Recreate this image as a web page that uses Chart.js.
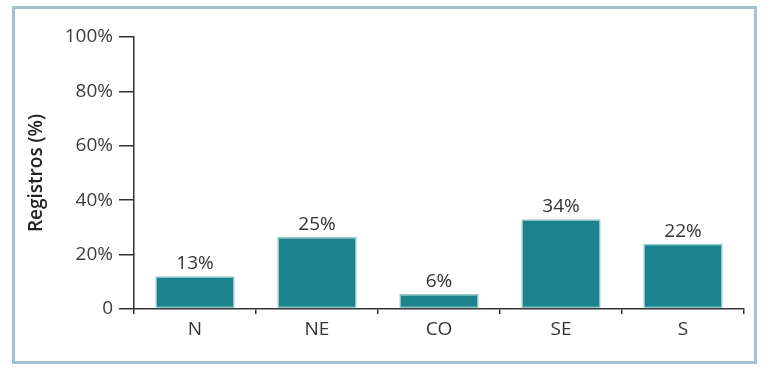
<!DOCTYPE html>
<html>
<head>
<meta charset="utf-8">
<script src="https://cdn.jsdelivr.net/npm/chart.js@4/dist/chart.umd.min.js"></script>
<style>
  html, body { margin: 0; padding: 0; background: #ffffff; }
  #wrap { position: relative; width: 771px; height: 368px; overflow: hidden; }
  #frame { position: absolute; left: 12px; top: 6px; width: 745px; height: 358px; box-sizing: border-box; border: 3px solid #a2c3cb; }
  canvas { position: absolute; left: 0; top: 0; }
</style>
</head>
<body>
<div id="wrap">
  <div id="frame"></div>
  <canvas id="c" width="771" height="368"></canvas>
</div>
<script>
const categories = ["N", "NE", "CO", "SE", "S"];
const values = [12, 26.5, 5.5, 33, 24];
const valueLabels = ["13%", "25%", "6%", "34%", "22%"];
const yTicks = [0, 20, 40, 60, 80, 100];
const yTitle = "Registros (%)";

const FONT = "'Open Sans', 'Noto Sans', sans-serif";

const barLabelPlugin = {
  id: 'barLabels',
  afterDatasetsDraw(chart) {
    const ctx = chart.ctx;
    const meta = chart.getDatasetMeta(0);
    ctx.save();
    ctx.font = "19px " + FONT;
    ctx.fillStyle = "#333333";
    ctx.textAlign = "center";
    ctx.textBaseline = "alphabetic";
    meta.data.forEach((bar, i) => {
      ctx.fillText(valueLabels[i], bar.x, bar.y - 7);
    });
    ctx.restore();
  }
};

new Chart(document.getElementById('c'), {
  type: 'bar',
  data: {
    labels: categories,
    datasets: [{
      data: values,
      backgroundColor: '#1a838b',
      borderColor: '#93c6ca',
      borderWidth: 1.5,
      borderSkipped: false,
      barPercentage: 0.65,
      categoryPercentage: 1
    }]
  },
  options: {
    responsive: false,
    animation: false,
    layout: { padding: { top: 37, right: 27, bottom: 0, left: 0 } },
    plugins: { legend: { display: false }, tooltip: { enabled: false } },
    scales: {
      x: {
        offset: true,
        grid: { offset: true, drawOnChartArea: false, tickLength: 5, color: '#333333', lineWidth: 1.5 },
        border: { display: true, color: '#333333', width: 1.5 },
        ticks: { color: '#333333', font: { family: FONT, size: 19 }, padding: 4 },
        afterFit(scale) { scale.height = 59; }
      },
      y: {
        min: 0,
        max: 100,
        afterBuildTicks(scale) { scale.ticks = yTicks.map(v => ({ value: v })); },
        grid: { drawOnChartArea: false, tickLength: 15, color: '#333333', lineWidth: 1.5 },
        border: { display: true, color: '#333333', width: 1.5 },
        ticks: {
          color: '#3c3c3c',
          font: { family: FONT, size: 19 },
          padding: 6,
          callback: (v) => v === 0 ? "0" : v + "%"
        },
        title: {
          display: true,
          text: yTitle,
          color: '#222222',
          font: { family: FONT, size: 19, weight: '600' },
          padding: { top: 25, bottom: 0 }
        },
        afterFit(scale) { scale.width = 134; }
      }
    }
  },
  plugins: [barLabelPlugin]
});
</script>
</body>
</html>
